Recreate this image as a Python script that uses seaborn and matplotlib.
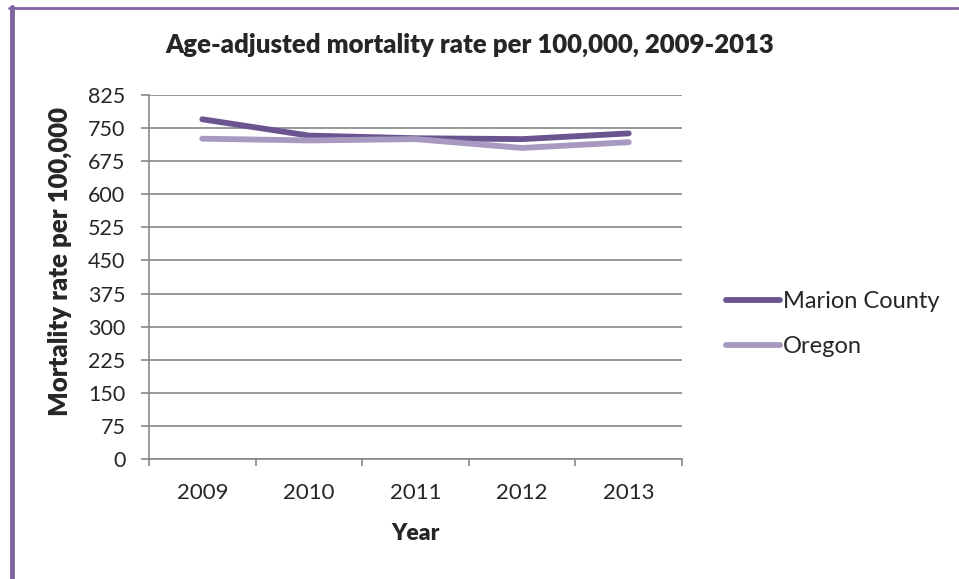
import pandas as pd
import seaborn as sns
import matplotlib.pyplot as plt
from matplotlib.lines import Line2D

years = ["2009", "2010", "2011", "2012", "2013"]
marion = [770, 733, 727, 725, 738]
oregon = [726, 722, 725, 705, 718]
y_ticks = list(range(0, 826, 75))

df = pd.DataFrame({
    "pos": list(range(len(years))) * 2,
    "Rate": marion + oregon,
    "Area": ["Marion County"] * len(years) + ["Oregon"] * len(years),
})

sns.set_style("white")
plt.rcParams["font.family"] = ["Lato", "DejaVu Sans"]

fig = plt.figure(figsize=(9.59, 5.79), dpi=100)
ax = fig.add_axes([149 / 959, 1 - 459 / 579, (682 - 149) / 959, (459 - 95) / 579])

palette = {"Marion County": "#6a5591", "Oregon": "#a899c1"}
sns.lineplot(data=df, x="pos", y="Rate", hue="Area", palette=palette,
             linewidth=4.2, ax=ax, solid_capstyle="round", legend=False)

grey = "#878787"
ax.set_ylim(0, 825)
ax.set_yticks(y_ticks)
ax.set_yticklabels([str(v) for v in y_ticks])
ax.grid(axis="y", color=grey, linewidth=1.2)
ax.set_axisbelow(True)

ax.set_xlim(-0.5, len(years) - 0.5)
ax.set_xticks([i - 0.5 for i in range(len(years) + 1)])
ax.set_xticklabels([])
ax.set_xticks(range(len(years)), minor=True)
ax.set_xticklabels(years, minor=True)

ax.tick_params(axis="y", which="major", direction="out", length=6, width=1.2,
               color=grey, pad=11, labelsize=15.5, left=True)
ax.tick_params(axis="x", which="major", direction="out", length=5, width=1.2,
               color=grey, bottom=True)
ax.tick_params(axis="x", which="minor", length=0, pad=17, labelsize=16)

for side in ["top", "right"]:
    ax.spines[side].set_visible(False)
for side in ["left", "bottom"]:
    ax.spines[side].set_color(grey)
    ax.spines[side].set_linewidth(1.2)

ax.set_xlabel("")
ax.set_ylabel("")
fig.text(60 / 959, 1 - 262 / 579, "Mortality rate per 100,000", rotation=90,
         ha="center", va="center", fontsize=18.5, fontweight="heavy")
fig.text(415 / 959, 1 - 533 / 579, "Year", ha="center", va="center",
         fontsize=16.5, fontweight="heavy")
fig.text(470 / 959, 1 - 45 / 579, "Age-adjusted mortality rate per 100,000, 2009-2013",
         ha="center", va="center", fontsize=18.5, fontweight="heavy")

handles = [Line2D([], [], color=palette[k], linewidth=4.2, solid_capstyle="round")
           for k in palette]
leg = fig.legend(handles, list(palette), loc="center left",
                 bbox_to_anchor=(714 / 959, 1 - 324 / 579), frameon=False,
                 fontsize=17, handlelength=2.3, handletextpad=0.12,
                 labelspacing=1.0, borderpad=0)

border = "#8064a2"
fig.add_artist(Line2D([9 / 959, 958 / 959], [1 - 8 / 579, 1 - 8 / 579],
                      color=border, linewidth=2, transform=fig.transFigure))
fig.add_artist(Line2D([11.5 / 959, 11.5 / 959], [0, 1 - 7 / 579],
                      color=border, linewidth=3.5, transform=fig.transFigure))

fig.savefig("out.png", dpi=100)
